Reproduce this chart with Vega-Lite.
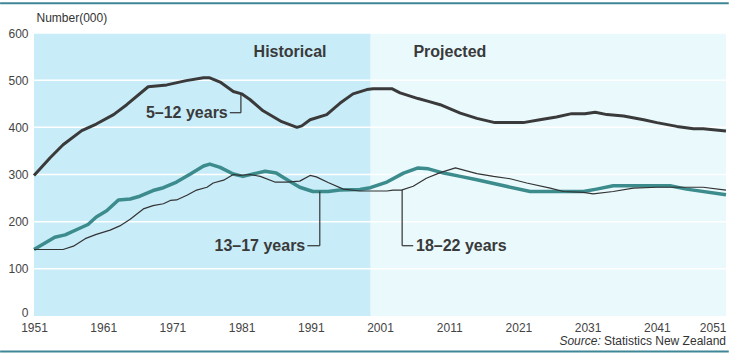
{
  "$schema": "https://vega.github.io/schema/vega-lite/v6.json",
  "width": 692,
  "height": 283,
  "autosize": {"type": "none"},
  "padding": {"left": 34, "top": 33, "right": 3, "bottom": 47},
  "background": "white",
  "config": {
    "view": {"fill": "#e9f9fc", "stroke": "transparent", "strokeWidth": 0},
    "font": "Liberation Sans",
    "text": {"font": "Liberation Sans"},
    "axis": {"domain": false, "ticks": false, "grid": false, "domainColor": "transparent", "tickColor": "transparent", "gridColor": "transparent", "tickSize": 0, "labelFont": "Liberation Sans", "labelFontSize": 12, "labelColor": "#444"}
  },
  "resolve": {"axis": {"x": "independent", "y": "independent"}},
  "datasets": {
    "series": [
      {"year": 1951, "value": 298, "series": "5–12 years"},
      {"year": 1953.3, "value": 335, "series": "5–12 years"},
      {"year": 1955.2, "value": 363, "series": "5–12 years"},
      {"year": 1957.9, "value": 393, "series": "5–12 years"},
      {"year": 1960, "value": 407, "series": "5–12 years"},
      {"year": 1962.5, "value": 427, "series": "5–12 years"},
      {"year": 1964.4, "value": 448, "series": "5–12 years"},
      {"year": 1967.5, "value": 486, "series": "5–12 years"},
      {"year": 1970.2, "value": 490, "series": "5–12 years"},
      {"year": 1973, "value": 499, "series": "5–12 years"},
      {"year": 1975.5, "value": 505, "series": "5–12 years"},
      {"year": 1976.4, "value": 505, "series": "5–12 years"},
      {"year": 1977.9, "value": 496, "series": "5–12 years"},
      {"year": 1979.8, "value": 476, "series": "5–12 years"},
      {"year": 1981, "value": 471, "series": "5–12 years"},
      {"year": 1982.2, "value": 459, "series": "5–12 years"},
      {"year": 1984.1, "value": 435, "series": "5–12 years"},
      {"year": 1986.8, "value": 412, "series": "5–12 years"},
      {"year": 1989, "value": 400, "series": "5–12 years"},
      {"year": 1989.7, "value": 403, "series": "5–12 years"},
      {"year": 1990.9, "value": 416, "series": "5–12 years"},
      {"year": 1993.3, "value": 427, "series": "5–12 years"},
      {"year": 1995.2, "value": 451, "series": "5–12 years"},
      {"year": 1997.1, "value": 471, "series": "5–12 years"},
      {"year": 1999.1, "value": 480, "series": "5–12 years"},
      {"year": 2000, "value": 482, "series": "5–12 years"},
      {"year": 2002.7, "value": 482, "series": "5–12 years"},
      {"year": 2003.9, "value": 473, "series": "5–12 years"},
      {"year": 2006.5, "value": 461, "series": "5–12 years"},
      {"year": 2008, "value": 455, "series": "5–12 years"},
      {"year": 2009.7, "value": 448, "series": "5–12 years"},
      {"year": 2012.6, "value": 430, "series": "5–12 years"},
      {"year": 2015, "value": 419, "series": "5–12 years"},
      {"year": 2017.6, "value": 410, "series": "5–12 years"},
      {"year": 2021.7, "value": 410, "series": "5–12 years"},
      {"year": 2024.1, "value": 416, "series": "5–12 years"},
      {"year": 2026.5, "value": 422, "series": "5–12 years"},
      {"year": 2028.7, "value": 429, "series": "5–12 years"},
      {"year": 2030.6, "value": 429, "series": "5–12 years"},
      {"year": 2032.1, "value": 432, "series": "5–12 years"},
      {"year": 2033.8, "value": 427, "series": "5–12 years"},
      {"year": 2036.2, "value": 424, "series": "5–12 years"},
      {"year": 2039.1, "value": 416, "series": "5–12 years"},
      {"year": 2041, "value": 410, "series": "5–12 years"},
      {"year": 2043.9, "value": 402, "series": "5–12 years"},
      {"year": 2046.3, "value": 397, "series": "5–12 years"},
      {"year": 2047.7, "value": 397, "series": "5–12 years"},
      {"year": 2051, "value": 392, "series": "5–12 years"},

      {"year": 1951, "value": 141, "series": "13–17 years"},
      {"year": 1954, "value": 167, "series": "13–17 years"},
      {"year": 1955.5, "value": 172, "series": "13–17 years"},
      {"year": 1957.6, "value": 186, "series": "13–17 years"},
      {"year": 1958.8, "value": 194, "series": "13–17 years"},
      {"year": 1960, "value": 210, "series": "13–17 years"},
      {"year": 1961.5, "value": 223, "series": "13–17 years"},
      {"year": 1963.2, "value": 246, "series": "13–17 years"},
      {"year": 1964.9, "value": 248, "series": "13–17 years"},
      {"year": 1966.3, "value": 254, "series": "13–17 years"},
      {"year": 1968.2, "value": 266, "series": "13–17 years"},
      {"year": 1969.7, "value": 272, "series": "13–17 years"},
      {"year": 1971.6, "value": 284, "series": "13–17 years"},
      {"year": 1973.6, "value": 301, "series": "13–17 years"},
      {"year": 1975.5, "value": 318, "series": "13–17 years"},
      {"year": 1976.4, "value": 322, "series": "13–17 years"},
      {"year": 1977.9, "value": 315, "series": "13–17 years"},
      {"year": 1979.8, "value": 301, "series": "13–17 years"},
      {"year": 1981.2, "value": 296, "series": "13–17 years"},
      {"year": 1983.2, "value": 303, "series": "13–17 years"},
      {"year": 1984.4, "value": 307, "series": "13–17 years"},
      {"year": 1986, "value": 303, "series": "13–17 years"},
      {"year": 1987.7, "value": 288, "series": "13–17 years"},
      {"year": 1989.4, "value": 273, "series": "13–17 years"},
      {"year": 1991.3, "value": 264, "series": "13–17 years"},
      {"year": 1993.5, "value": 264, "series": "13–17 years"},
      {"year": 1995.2, "value": 267, "series": "13–17 years"},
      {"year": 1998.1, "value": 268, "series": "13–17 years"},
      {"year": 1999.6, "value": 272, "series": "13–17 years"},
      {"year": 2002, "value": 284, "series": "13–17 years"},
      {"year": 2004.4, "value": 303, "series": "13–17 years"},
      {"year": 2006.5, "value": 314, "series": "13–17 years"},
      {"year": 2008, "value": 312, "series": "13–17 years"},
      {"year": 2010.2, "value": 303, "series": "13–17 years"},
      {"year": 2012.6, "value": 296, "series": "13–17 years"},
      {"year": 2015, "value": 289, "series": "13–17 years"},
      {"year": 2018.9, "value": 276, "series": "13–17 years"},
      {"year": 2022.7, "value": 264, "series": "13–17 years"},
      {"year": 2030.4, "value": 264, "series": "13–17 years"},
      {"year": 2032.3, "value": 269, "series": "13–17 years"},
      {"year": 2034.7, "value": 276, "series": "13–17 years"},
      {"year": 2042.9, "value": 276, "series": "13–17 years"},
      {"year": 2045.3, "value": 269, "series": "13–17 years"},
      {"year": 2051, "value": 257, "series": "13–17 years"},

      {"year": 1951, "value": 141, "series": "18–22 years"},
      {"year": 1955.2, "value": 141, "series": "18–22 years"},
      {"year": 1956.7, "value": 148, "series": "18–22 years"},
      {"year": 1958.4, "value": 164, "series": "18–22 years"},
      {"year": 1960, "value": 173, "series": "18–22 years"},
      {"year": 1962, "value": 182, "series": "18–22 years"},
      {"year": 1963.4, "value": 191, "series": "18–22 years"},
      {"year": 1964.9, "value": 205, "series": "18–22 years"},
      {"year": 1966.8, "value": 227, "series": "18–22 years"},
      {"year": 1968.2, "value": 234, "series": "18–22 years"},
      {"year": 1969.7, "value": 238, "series": "18–22 years"},
      {"year": 1970.7, "value": 245, "series": "18–22 years"},
      {"year": 1971.6, "value": 246, "series": "18–22 years"},
      {"year": 1973.1, "value": 256, "series": "18–22 years"},
      {"year": 1974.5, "value": 267, "series": "18–22 years"},
      {"year": 1976, "value": 273, "series": "18–22 years"},
      {"year": 1976.9, "value": 282, "series": "18–22 years"},
      {"year": 1978.4, "value": 288, "series": "18–22 years"},
      {"year": 1979.8, "value": 300, "series": "18–22 years"},
      {"year": 1980.8, "value": 298, "series": "18–22 years"},
      {"year": 1982.2, "value": 300, "series": "18–22 years"},
      {"year": 1983.7, "value": 296, "series": "18–22 years"},
      {"year": 1985.8, "value": 284, "series": "18–22 years"},
      {"year": 1987.5, "value": 284, "series": "18–22 years"},
      {"year": 1989.4, "value": 286, "series": "18–22 years"},
      {"year": 1990.9, "value": 298, "series": "18–22 years"},
      {"year": 1991.8, "value": 295, "series": "18–22 years"},
      {"year": 1993.5, "value": 283, "series": "18–22 years"},
      {"year": 1995.7, "value": 269, "series": "18–22 years"},
      {"year": 1998.1, "value": 265, "series": "18–22 years"},
      {"year": 2002, "value": 265, "series": "18–22 years"},
      {"year": 2002.9, "value": 267, "series": "18–22 years"},
      {"year": 2004.1, "value": 267, "series": "18–22 years"},
      {"year": 2005.8, "value": 275, "series": "18–22 years"},
      {"year": 2007.7, "value": 292, "series": "18–22 years"},
      {"year": 2009.7, "value": 304, "series": "18–22 years"},
      {"year": 2011.9, "value": 314, "series": "18–22 years"},
      {"year": 2015, "value": 302, "series": "18–22 years"},
      {"year": 2017.4, "value": 296, "series": "18–22 years"},
      {"year": 2019.8, "value": 291, "series": "18–22 years"},
      {"year": 2022.2, "value": 282, "series": "18–22 years"},
      {"year": 2025.6, "value": 271, "series": "18–22 years"},
      {"year": 2027.5, "value": 264, "series": "18–22 years"},
      {"year": 2030.4, "value": 262, "series": "18–22 years"},
      {"year": 2031.8, "value": 259, "series": "18–22 years"},
      {"year": 2034.7, "value": 264, "series": "18–22 years"},
      {"year": 2037.6, "value": 271, "series": "18–22 years"},
      {"year": 2041, "value": 273, "series": "18–22 years"},
      {"year": 2047.7, "value": 273, "series": "18–22 years"},
      {"year": 2051, "value": 267, "series": "18–22 years"}
    ],
    "periods": [
      {"start": 1951, "end": 1999.6, "period": "Historical"}
    ],
    "grid": [
      {"value": 100}, {"value": 200}, {"value": 300}, {"value": 400}, {"value": 500}, {"value": 600}
    ],
    "leaders": [
      {"x": 1979.3, "y": 431, "x2": 1980.9, "y2": 431},
      {"x": 1980.9, "y": 431, "x2": 1980.9, "y2": 472},
      {"x": 1990.5, "y": 149, "x2": 1992.3, "y2": 149},
      {"x": 1992.3, "y": 149, "x2": 1992.3, "y2": 264},
      {"x": 2004.2, "y": 149, "x2": 2005.8, "y2": 149},
      {"x": 2004.2, "y": 149, "x2": 2004.2, "y2": 267}
    ],
    "labelsRight": [
      {"x": 1979, "y": 431, "text": "5–12 years"},
      {"x": 1990.2, "y": 149, "text": "13–17 years"}
    ],
    "labelsLeft": [
      {"x": 2006.2, "y": 149, "text": "18–22 years"}
    ],
    "headings": [
      {"x": 1988, "y": 560, "text": "Historical"},
      {"x": 2011.1, "y": 560, "text": "Projected"}
    ],
    "frame": [
      {"x": 1946.1, "x2": 2051.4, "y": 663},
      {"x": 1946.1, "x2": 2051.4, "y": -75}
    ]
  },
  "layer": [
    {
      "data": {"name": "periods"},
      "mark": {"type": "rect", "color": "#c8ecf8"},
      "encoding": {
        "x": {"field": "start", "type": "quantitative", "scale": {"domain": [1951, 2051], "nice": false, "zero": false}, "axis": null},
        "x2": {"field": "end"}
      }
    },
    {
      "data": {"name": "grid"},
      "mark": {"type": "rule", "color": "white", "strokeWidth": 1.5},
      "encoding": {
        "y": {"field": "value", "type": "quantitative", "scale": {"domain": [0, 600], "nice": false}, "axis": null}
      }
    },
    {
      "data": {"name": "series"},
      "transform": [{"filter": "datum.series === '5–12 years'"}],
      "mark": {"type": "line", "color": "#3a3a3a", "strokeWidth": 3, "strokeJoin": "round"},
      "encoding": {
        "x": {"field": "year", "type": "quantitative", "title": null,
          "axis": {"values": [1951, 1961, 1971, 1981, 1991, 2001, 2011, 2021, 2031, 2041, 2051], "format": "d",
            "domain": false, "ticks": false, "labelPadding": 6,
            "labelAlign": {"condition": {"test": "datum.value === 2051", "value": "right"}, "value": "center"}}},
        "y": {"field": "value", "type": "quantitative", "title": "Number(000)",
          "axis": {"values": [0, 100, 200, 300, 400, 500, 600],
            "domain": false, "ticks": false, "labelPadding": 6,
            "labelOffset": {"condition": {"test": "datum.value === 0", "value": -4}, "value": 0},
            "titleAngle": 0, "titleAlign": "left", "titleBaseline": "alphabetic", "titleX": 2, "titleY": -12,
            "titleFontSize": 12, "titleFontWeight": "normal", "titleColor": "#333", "titleFont": "Liberation Sans"}}
      }
    },
    {
      "data": {"name": "series"},
      "transform": [{"filter": "datum.series === '13–17 years'"}],
      "mark": {"type": "line", "color": "#3c8b8d", "strokeWidth": 3.5, "strokeJoin": "round"},
      "encoding": {
        "x": {"field": "year", "type": "quantitative", "axis": null},
        "y": {"field": "value", "type": "quantitative", "axis": null}
      }
    },
    {
      "data": {"name": "series"},
      "transform": [{"filter": "datum.series === '18–22 years'"}],
      "mark": {"type": "line", "color": "#333333", "strokeWidth": 1.2, "strokeJoin": "round"},
      "encoding": {
        "x": {"field": "year", "type": "quantitative", "axis": null},
        "y": {"field": "value", "type": "quantitative", "axis": null}
      }
    },
    {
      "data": {"name": "leaders"},
      "mark": {"type": "rule", "color": "#333333", "strokeWidth": 1.2},
      "encoding": {
        "x": {"field": "x", "type": "quantitative", "axis": null},
        "x2": {"field": "x2"},
        "y": {"field": "y", "type": "quantitative", "axis": null},
        "y2": {"field": "y2"}
      }
    },
    {
      "data": {"name": "labelsRight"},
      "mark": {"type": "text", "align": "right", "baseline": "middle", "fontSize": 16, "fontWeight": "bold", "color": "#3a3a3a"},
      "encoding": {
        "x": {"field": "x", "type": "quantitative", "axis": null},
        "y": {"field": "y", "type": "quantitative", "axis": null},
        "text": {"field": "text"}
      }
    },
    {
      "data": {"name": "labelsLeft"},
      "mark": {"type": "text", "align": "left", "baseline": "middle", "fontSize": 16, "fontWeight": "bold", "color": "#3a3a3a"},
      "encoding": {
        "x": {"field": "x", "type": "quantitative", "axis": null},
        "y": {"field": "y", "type": "quantitative", "axis": null},
        "text": {"field": "text"}
      }
    },
    {
      "data": {"name": "headings"},
      "mark": {"type": "text", "align": "center", "baseline": "middle", "fontSize": 16, "fontWeight": "bold", "color": "#3a3a3a"},
      "encoding": {
        "x": {"field": "x", "type": "quantitative", "axis": null},
        "y": {"field": "y", "type": "quantitative", "axis": null},
        "text": {"field": "text"}
      }
    },
    {
      "data": {"name": "frame"},
      "mark": {"type": "rule", "color": "#3f8696", "strokeWidth": 2},
      "encoding": {
        "x": {"field": "x", "type": "quantitative", "axis": null},
        "x2": {"field": "x2"},
        "y": {"field": "y", "type": "quantitative", "axis": null}
      }
    },
    {
      "data": {"values": [{"x": 2051, "y": -53, "text": "Statistics New Zealand"}]},
      "mark": {"type": "text", "align": "right", "baseline": "middle", "fontSize": 12, "color": "#333"},
      "encoding": {
        "x": {"field": "x", "type": "quantitative", "axis": null},
        "y": {"field": "y", "type": "quantitative", "axis": null},
        "text": {"field": "text"}
      }
    },
    {
      "data": {"values": [{"x": 2032.9, "y": -53, "text": "Source:"}]},
      "mark": {"type": "text", "align": "right", "baseline": "middle", "fontSize": 12, "fontStyle": "italic", "color": "#333"},
      "encoding": {
        "x": {"field": "x", "type": "quantitative", "axis": null},
        "y": {"field": "y", "type": "quantitative", "axis": null},
        "text": {"field": "text"}
      }
    }
  ]
}
